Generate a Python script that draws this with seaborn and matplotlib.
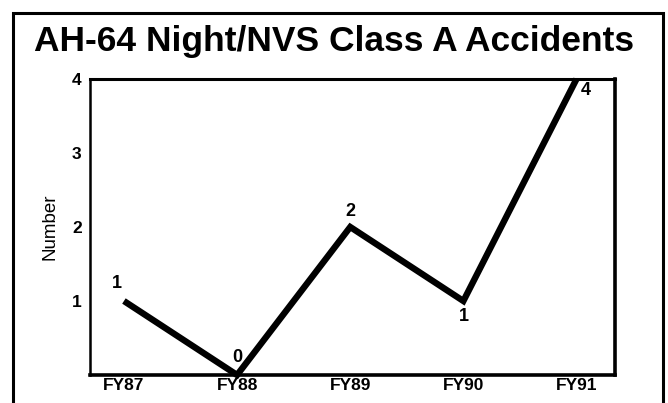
import matplotlib
matplotlib.use("Agg")
import matplotlib.pyplot as plt
import seaborn as sns
import pandas as pd
from matplotlib.patches import Rectangle

years = ["FY87", "FY88", "FY89", "FY90", "FY91"]
accidents = [1, 0, 2, 1, 4]
yticks = [1, 2, 3, 4]

sns.set_style("white")
plt.rcParams['font.family'] = ['Liberation Sans', 'DejaVu Sans']
plt.rcParams.update({"text.color": "black", "axes.labelcolor": "black",
                     "xtick.color": "black", "ytick.color": "black"})

W, H = 668, 403
fig = plt.figure(figsize=(W / 100, H / 100), dpi=100)
ax = fig.add_axes([90 / W, 1 - 375 / H, (615 - 90) / W, (375 - 79) / H])

df = pd.DataFrame({"pos": range(len(years)), "n": accidents})
sns.lineplot(data=df, x="pos", y="n", ax=ax, color="black", lw=4.6,
             solid_joinstyle="miter", solid_capstyle="butt", clip_on=False)

ax.set_xlim(-0.3, 4.34)
ax.set_ylim(0, 4)
ax.set_xticks(range(len(years)))
ax.set_xticklabels(years, fontsize=12.5, fontweight="bold")
ax.set_yticks(yticks)
ax.set_yticklabels([str(t) for t in yticks], fontsize=12.5, fontweight="bold")
ax.tick_params(axis="y", direction="inout", length=6, width=1.5, pad=3)
ax.tick_params(axis="x", length=0, pad=2)
ax.set_xlabel("")
ax.set_ylabel("Number", fontsize=13.5, labelpad=10)

for s in ax.spines.values():
    s.set_visible(True)
    s.set_color("black")
ax.spines["left"].set_linewidth(1.8)
ax.spines["top"].set_linewidth(2.2)
ax.spines["right"].set_linewidth(2.6)
ax.spines["bottom"].set_linewidth(2.6)

offsets = [(-0.02, 0.12, "right", "bottom"),
           (0.0, 0.12, "center", "bottom"),
           (0.0, 0.1, "center", "bottom"),
           (0.0, -0.1, "center", "top"),
           (0.04, -0.04, "left", "top")]
for i, (v, (dx, dy, ha, va)) in enumerate(zip(accidents, offsets)):
    ax.text(i + dx, v + dy, str(v), ha=ha, va=va, fontsize=13,
            fontweight="bold", color="black")

fig.text(0.5, 1 - 42 / H, "AH-64 Night/NVS Class A Accidents",
         ha="center", va="center", fontsize=25.5, fontweight="bold",
         color="black")

fig.patches.append(Rectangle((13 / W, -0.05), (663 - 13) / W, 1.05 - 13 / H,
                             transform=fig.transFigure, fill=False,
                             edgecolor="black", lw=2.2))

fig.savefig("out.png", dpi=100)
